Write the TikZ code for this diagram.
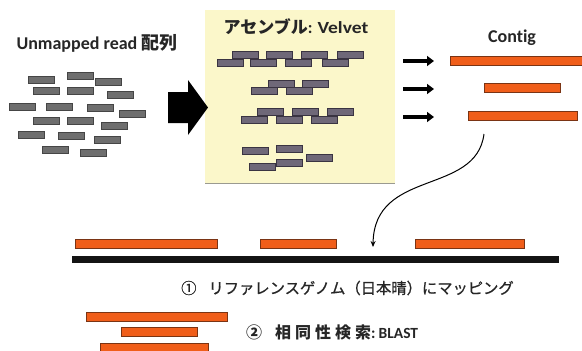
\documentclass[tikz,border=0pt]{standalone}
\usepackage{fontspec}
\setmainfont{Carlito}[Ligatures=NoCommon]
\newfontfamily\jp{Noto Sans CJK JP}
\newfontfamily\jpm{Noto Sans CJK JP}[FakeBold=0.8]
\usetikzlibrary{arrows.meta}
\definecolor{lreadfill}{HTML}{6E6E6E}
\definecolor{lreadline}{HTML}{454545}
\definecolor{yreadfill}{HTML}{6F6878}
\definecolor{yreadline}{HTML}{3A3442}
\definecolor{barfill}{HTML}{F05E1A}
\definecolor{barline}{HTML}{7A3414}
\definecolor{boxfill}{HTML}{FBF7CA}
\definecolor{boxline}{HTML}{9A9A90}
\begin{document}
\begin{tikzpicture}[x=1pt,y=-1pt,
  lread/.style={draw=lreadline, fill=lreadfill, line width=0.9pt, minimum width=26pt, minimum height=7pt, inner sep=0pt},
  yread/.style={draw=yreadline, fill=yreadfill, line width=0.9pt, minimum width=26pt, minimum height=7pt, inner sep=0pt},
  bar/.style={draw=barline, fill=barfill, line width=0.9pt, minimum height=9pt, inner sep=0pt},
  lbl/.style={inner sep=0pt, text=black!85},
  sarrow/.style={line width=3.5pt, -{Triangle[length=7pt,width=10pt]}},
  carrow/.style={line width=1pt, -{Stealth[length=6pt,width=5pt]}}
]
\useasboundingbox (0,0) rectangle (582,351);
\clip (0,0) rectangle (582,351);
\fill[white] (0,0) rectangle (582,351);

% yellow assembly box
\node[fill=boxfill, minimum width=190pt, minimum height=173pt, inner sep=0pt, anchor=north west] (box) at (205,10) {};
\draw[boxline, line width=1.5pt] (box.south west) -- (box.south east);

% titles
\node[lbl, font=\bfseries\fontsize{18}{20}\selectfont] (t1) at (97,43) {Unmapped read {\jp 配列}};
\node[lbl, font=\bfseries\fontsize{17}{20}\selectfont] (t2) at (296,27) {{\jp アセンブル}: \scalebox{1.15}[1]{Velvet}};
\node[lbl, font=\bfseries\fontsize{18}{20}\selectfont] (t3) at (512,38) {Contig};

% unmapped reads
\foreach \x/\y [count=\i] in {41.5/79.5, 80.5/75.5, 108/82, 46/91, 80.5/91, 120/94.5,
  22/106.5, 59/106.5, 100/108, 132/113.5, 46/120.5, 80.5/120.5, 114.5/126,
  31/134.5, 71.5/136, 107/139.5, 55/149.5, 93.5/153}
  \node[lread] (L\i) at (\x,\y) {};

% big arrow
\fill[black] (168,92) -- (188,92) -- (188,80) -- (208,107.5) -- (188,135) -- (188,123) -- (168,123) -- cycle;

% assembled reads
\foreach \x/\y [count=\i] in {245/55, 279/55, 314.5/55, 350/55,
  230/62.5, 263.5/62.5, 298.5/62.5, 335/62.5,
  281/83.5, 315.5/83.5, 264/91, 299.5/91,
  270.5/111.5, 305.5/111.5, 340.5/111.5,
  254/119.5, 289/119.5, 324/119.5,
  255/151, 289.5/148.5, 319.5/158, 262/166.5, 289/162.5}
  \node[yread] (Y\i) at (\x,\y) {};

% small arrows
\coordinate (s1) at (403,61);  \coordinate (e1) at (434,61);
\coordinate (s2) at (403,89);  \coordinate (e2) at (434,89);
\coordinate (s3) at (403,117); \coordinate (e3) at (434,117);
\draw[sarrow] (s1) -- (e1);
\draw[sarrow] (s2) -- (e2);
\draw[sarrow] (s3) -- (e3);

% contigs
\node[bar, minimum width=142pt, anchor=west] (C1) at (450,60.5) {};
\node[bar, minimum width=76pt] (C2) at (522,88) {};
\node[bar, minimum width=109pt] (C3) at (522.5,115.5) {};

% curved arrow
\coordinate (cs) at (484,134);
\coordinate (ce) at (373,247);
\draw[carrow] (cs) .. controls (476,196) and (374,168) .. (ce);

% mapped contigs on reference
\node[bar, minimum width=142pt] (B1) at (146,244) {};
\node[bar, minimum width=76pt] (B2) at (298,244) {};
\node[bar, minimum width=109pt] (B3) at (469.5,244) {};
\node[fill=black!92, minimum width=487pt, minimum height=7pt, inner sep=0pt] (ref) at (315.5,259.5) {};

\node[lbl, font=\fontsize{15.3}{18}\selectfont\jpm, anchor=west] (t4) at (181,288) {①\hspace{12pt}リファレンスゲノム（日本晴）にマッピング};

% blast hits
\node[bar, minimum width=141pt] (H1) at (157,317) {};
\node[bar, minimum width=76pt] (H2) at (159.5,332) {};
\node[bar, minimum width=108pt] (H3) at (154.5,347.5) {};

\node[lbl, font=\bfseries\fontsize{16}{18}\selectfont, anchor=west] (t5) at (246,332) {{\jp ②\hspace{13pt}相\hspace{4pt}同\hspace{4pt}性\hspace{4pt}検\hspace{4pt}索}:\hspace{3pt}{\fontsize{15.5}{17}\selectfont BLAST}};
\end{tikzpicture}
\end{document}
